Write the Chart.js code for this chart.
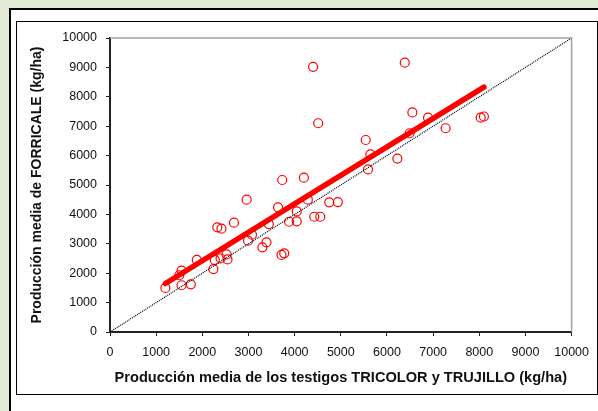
<!DOCTYPE html>
<html>
<head>
<meta charset="utf-8">
<script src="https://cdn.jsdelivr.net/npm/chart.js@4.4.1/dist/chart.umd.min.js"></script>
<style>
  html, body { margin: 0; padding: 0; background: #e4ebd4; }
  #wrap { width: 598px; height: 411px; position: relative; }
</style>
</head>
<body>
<div id="wrap"><canvas id="grafico" width="598" height="411"></canvas></div>
<script>
// --- DATOS ---
// producción media de los testigos (eje X) y de FORRICALE (eje Y), kg/ha
const testigosX = [1200, 1550, 1750, 1550, 1500, 1880, 2240, 2270, 2395, 2525, 2545, 2325, 2415, 2685, 2960, 2990,
  3075, 3300, 3390, 3440, 3640, 3730, 3715, 3775, 3880, 4045, 4045, 4200, 4285, 4425, 4555, 4750, 4935,
  5590, 5640, 5540, 6225, 4400, 6385, 4510, 6490, 6550, 6890, 7270, 8030, 8100];
const forricaleY = [1500, 1590, 1620, 2085, 1930, 2450, 2140, 2450, 2500, 2640, 2470, 3560, 3515, 3720, 4500, 3105,
  3310, 2880, 3050, 3670, 4240, 5170, 2620, 2675, 3750, 3765, 4100, 5250, 4500, 3920, 3920, 4410, 4420,
  5530, 6040, 6530, 5900, 9020, 9160, 7100, 6760, 7470, 7290, 6930, 7290, 7330];

// recta de regresión (extremos) y recta 1:1
const ajusteX = [1200, 8100];
const ajusteY = [1650, 8330];
const diagonalX = [0, 10000];
const diagonalY = [0, 10000];

// marcas de los ejes
const ticksEje = [0, 1000, 2000, 3000, 4000, 5000, 6000, 7000, 8000, 9000, 10000];

const FUENTE = '"Liberation Sans", Arial, sans-serif';

function toPoints(xs, ys) {
  return xs.map((x, i) => ({ x: x, y: ys[i] }));
}

// --- fondo y marcos (estilo Excel) ---
const marcoPlugin = {
  id: 'marco',
  beforeDraw(chart) {
    const ctx = chart.ctx;
    ctx.save();
    ctx.fillStyle = '#e4ebd4';
    ctx.fillRect(0, 0, 598, 411);
    ctx.fillStyle = '#ffffff';
    ctx.fillRect(10, 9, 600, 420);
    ctx.strokeStyle = '#000';
    ctx.lineWidth = 2;
    ctx.strokeRect(10, 9, 600, 420);
    ctx.lineWidth = 1;
    ctx.strokeRect(16.5, 21.5, 581, 373);
    ctx.restore();
  },
  afterDraw(chart) {
    // borde gris del área de trazado (arriba y derecha)
    const a = chart.chartArea;
    const ctx = chart.ctx;
    ctx.save();
    ctx.strokeStyle = '#a0a0a0';
    ctx.lineWidth = 1.5;
    ctx.beginPath();
    ctx.moveTo(a.left, a.top);
    ctx.lineTo(a.right, a.top);
    ctx.lineTo(a.right, a.bottom);
    ctx.stroke();
    ctx.restore();
  }
};

function ejeLineal(titulo, esX) {
  return {
    type: 'linear',
    min: 0,
    max: 10000,
    afterBuildTicks: function(scale) {
      scale.ticks = ticksEje.map(v => ({ value: v }));
    },
    afterFit: function(scale) {
      if (esX) scale.height = 56; else scale.width = 90;
    },
    grid: { drawOnChartArea: false, drawTicks: true, tickLength: 4, tickColor: '#222', tickWidth: 1 },
    border: { display: true, color: '#222', width: 2 },
    ticks: {
      color: '#111',
      padding: 9,
      maxRotation: 0,
      autoSkip: false,
      font: { family: FUENTE, size: 12.5 },
      callback: function(value) { return String(value); }
    },
    title: {
      display: true,
      text: titulo,
      color: '#111',
      font: { family: FUENTE, size: esX ? 14.6 : 14, weight: 'bold' },
      padding: esX ? { top: 0, bottom: 1 } : { top: 9, bottom: 0 }
    }
  };
}

const ctx = document.getElementById('grafico');
new Chart(ctx, {
  type: 'scatter',
  data: {
    datasets: [
      {
        label: '1:1',
        data: toPoints(diagonalX, diagonalY),
        showLine: true,
        borderColor: '#000',
        borderWidth: 1.2,
        borderDash: [1, 1],
        pointRadius: 0,
        fill: false
      },
      {
        label: 'Regresión',
        data: toPoints(ajusteX, ajusteY),
        showLine: true,
        borderColor: '#ff0000',
        borderWidth: 5.5,
        borderCapStyle: 'round',
        pointRadius: 0,
        fill: false
      },
      {
        label: 'Datos',
        data: toPoints(testigosX, forricaleY),
        pointStyle: 'circle',
        pointRadius: 4.5,
        pointBorderWidth: 1.2,
        pointBorderColor: '#ff0000',
        pointBackgroundColor: 'rgba(0,0,0,0)',
        showLine: false
      }
    ]
  },
  options: {
    responsive: false,
    animation: false,
    layout: { padding: { left: 20, top: 38, right: 26, bottom: 23 } },
    plugins: {
      legend: { display: false },
      tooltip: { enabled: false },
      title: { display: false }
    },
    scales: {
      x: ejeLineal('Producción media de los testigos TRICOLOR y TRUJILLO (kg/ha)', true),
      y: ejeLineal('Producción media de FORRICALE (kg/ha)', false)
    }
  },
  plugins: [marcoPlugin]
});
</script>
</body>
</html>
